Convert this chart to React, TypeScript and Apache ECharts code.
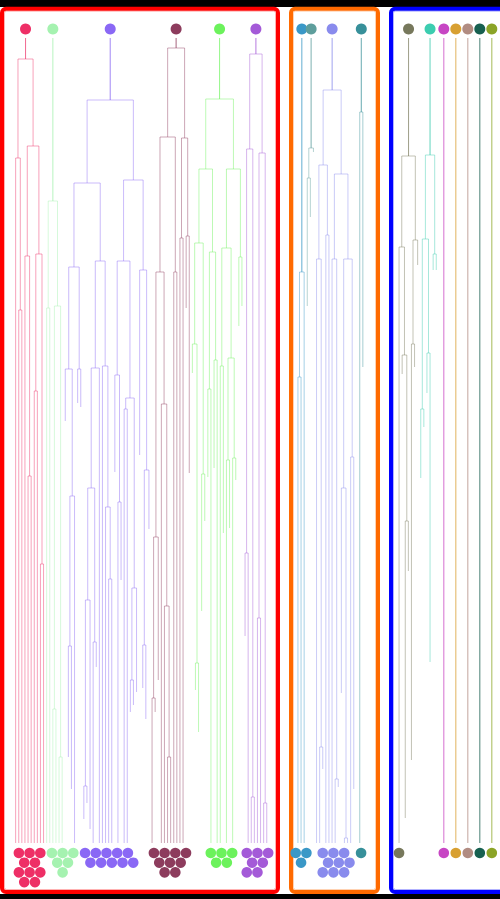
import React, { useEffect, useRef } from "react";
import * as echarts from "echarts";

// A tree: a number is a leaf (depth where its line ends, 814 = bottom),
// an array is a merge: [merge depth, left subtree, right subtree].
type Tree = number | [number, Tree, Tree];

const TREE_PINK: Tree = [30,
  [129, 814, [281, 814, 814]],
  [117, [227, 814, [447, 814, 814]], [225, [362, 814, 814], [535, 814, 814]]]];
const TREE_LIGHTGREEN: Tree = [172, [279, 814, 814], [277, [680, 814, 814], [728, 814, 814]]];
const TREE_PURPLE: Tree = [71,
  [154,
    [238, [340, 392, [467, [617, 728, 760], 814]], [340, 374, 378]],
    [232,
      [339, [459, [571, [757, 790, 774], 800], [613, 814, 638]], 814],
      [337, 814, [478, 814, [550, 814, 814]]]]],
  [151,
    [232, [346, 443, [473, 814, 551]], [369, [380, 814, 814], [559, [651, 683, 676], 663]]],
    [241, 426, [441, [616, 659, 690], 500]]]];
const TREE_MAROON: Tree = [19,
  [108,
    [243, [508, [669, 814, 683], 651], [375, 814, [577, 814, [728, 814, 814]]]],
    [243, 814, 814]],
  [109, [209, 814, 814], [207, 279, 444]]];
const TREE_GREEN: Tree = [70,
  [140,
    [214, [315, 344, [634, 661, 703]], [445, 582, 492]],
    [223, [360, 448, 814], [331, 439, 814]]],
  [140,
    [219, [337, 814, 504], [329, [431, 814, 499], [429, 814, 451]]],
    [228, 297, 277]]];
const TREE_VIOLET: Tree = [25,
  [120, [524, 607, 814], [768, 814, 814]],
  [124, [589, 814, 814], [774, 814, 814]]];
const TREE_BLUE: Tree = [243, [348, 814, 814], 814];
const TREE_TEALGREY: Tree = [119, [149, 277, 188], 123];
const TREE_PERIWINKLE: Tree = [61,
  [136, [230, 814, [718, 814, 740]], [206, 814, 814]],
  [145, [230, 814, [750, 814, 758]], [230, [459, 664, [809, 814, 814]], [428, 814, 760]]]];
const TREE_TEAL: Tree = [83, 814, 338];
const TREE_OLIVEGREY: Tree = [127, [218, 814, [326, 345, [492, 789, 542]]], [211, [315, 731, 338], 236]];
const TREE_TURQUOISE: Tree = [126, [210, [380, 449, 398], [324, 364, 633]], [225, 241, 241]];
const TREE_MAGENTA: Tree = 814;
const TREE_GOLD: Tree = 814;
const TREE_TAUPE: Tree = 814;
const TREE_DARKGREEN: Tree = 814;
const TREE_OLIVE: Tree = 814;

const CLUSTER_TREES: Tree[] = [
  TREE_PINK, TREE_LIGHTGREEN, TREE_PURPLE, TREE_MAROON, TREE_GREEN, TREE_VIOLET,
  TREE_BLUE, TREE_TEALGREY, TREE_PERIWINKLE, TREE_TEAL,
  TREE_OLIVEGREY, TREE_TURQUOISE, TREE_MAGENTA, TREE_GOLD, TREE_TAUPE, TREE_DARKGREEN, TREE_OLIVE,
];

const CLUSTER_COLORS = [
  "#ee2f66", "#a5f2b0", "#8a68f5", "#8d3c5d", "#6cf25c", "#a45ad8",
  "#3a98c7", "#5e9e9c", "#898bed", "#37909a",
  "#77785c", "#3ccdb0", "#c746c4", "#d8a032", "#b18c82", "#176050", "#8ba427",
];

// leaves per row of the dot pile under each cluster
const DOT_ROWS: number[][] = [
  [3, 2, 3, 2], [3, 2, 1], [5, 5], [4, 3, 2], [3, 2], [3, 2, 2],
  [2, 1], [], [3, 3, 3], [1],
  [1], [], [1], [1], [1], [1], [1],
];

const GROUPS: number[][] = [[0, 1, 2, 3, 4, 5], [6, 7, 8, 9], [10, 11, 12, 13, 14, 15, 16]];
const GROUP_COLORS = ["#ff0000", "#ff6a00", "#0000ff"];

// layout constants (pixels)
const SLOT = 3.1;
const MIN_W = 12;
const BOX_PAD = [[12.1, 9.7], [5.4, 10.7], [6.5, 24]];
const BOX_GAP = 13;
const BOX_START = 2;
const BOX_TOP = -20.3;
const BOX_BOTTOM = 863;
const STEM_TOP = 9;
const BOTTOM = 814;
const DOT_R = 5.3;
const DOT_DX = 10.7;
const DOT_DY = 9.7;
const DOT_Y0 = 824;

function countLeaves(t: Tree): number {
  return typeof t === "number" ? 1 : countLeaves(t[1]) + countLeaves(t[2]);
}

function buildLayout() {
  const links: { value: number[]; ci: number }[] = [];
  const tops: any[] = [];
  const dots: any[] = [];
  const boxes: { value: number[]; gi: number }[] = [];
  let cursor = BOX_START;
  let prevDotRight = -Infinity;
  GROUPS.forEach((g, gi) => {
    const left = cursor;
    cursor += BOX_PAD[gi][0];
    g.forEach((ci) => {
      const tree = CLUSTER_TREES[ci];
      const n = countLeaves(tree);
      const w = n <= 2 ? Math.max(MIN_W, n * SLOT) : n * SLOT;
      const start = cursor + (w - n * SLOT) / 2;
      let k = 0;
      const bottomXs: number[] = [];
      const walk = (t: Tree): { x: number; top: number } => {
        if (typeof t === "number") {
          const x = start + (k++ + 0.5) * SLOT;
          if (t >= BOTTOM) bottomXs.push(x);
          return { x, top: t };
        }
        const a = walk(t[1]);
        const b = walk(t[2]);
        links.push({ value: [a.x / SLOT, b.x / SLOT, t[0], a.top, b.top], ci });
        return { x: (a.x + b.x) / 2, top: t[0] };
      };
      const root = walk(tree);
      links.push({ value: [root.x / SLOT, root.x / SLOT, STEM_TOP, root.top, root.top], ci });
      tops.push({ value: [root.x / SLOT, 0], itemStyle: { color: CLUSTER_COLORS[ci], opacity: 1 } });

      const rows = DOT_ROWS[ci];
      if (rows.length) {
        const W = rows[0];
        const center = bottomXs.length
          ? bottomXs.reduce((s, v) => s + v, 0) / bottomXs.length
          : cursor + w / 2;
        let x0 = center - ((W - 1) / 2) * DOT_DX;
        let maxCol = 0;
        const offs = rows.map((c, r) => {
          const off = r % 2 ? 0.5 + Math.max(0, Math.floor((W - 1 - c) / 2)) : Math.floor((W - c) / 2);
          maxCol = Math.max(maxCol, off + c - 1);
          return off;
        });
        if (x0 - DOT_R < prevDotRight + 1) x0 = prevDotRight + 1 + DOT_R;
        rows.forEach((c, r) => {
          for (let j = 0; j < c; j++) {
            dots.push({
              value: [(x0 + (offs[r] + j) * DOT_DX) / SLOT, DOT_Y0 + r * DOT_DY],
              itemStyle: { color: CLUSTER_COLORS[ci], opacity: 1 },
            });
          }
        });
        prevDotRight = x0 + maxCol * DOT_DX + DOT_R;
      }
      cursor += w;
    });
    cursor += BOX_PAD[gi][1];
    boxes.push({ value: [left / SLOT, cursor / SLOT, BOX_TOP, BOX_BOTTOM], gi });
    cursor += BOX_GAP;
  });
  return { links, tops, dots, boxes };
}

export default function App() {
  const ref = useRef<HTMLDivElement>(null);
  useEffect(() => {
    document.body.style.margin = "0";
    document.body.style.overflow = "hidden";
    if (!ref.current) return;
    const chart = echarts.init(ref.current, undefined, { renderer: "svg" });
    const { links, tops, dots, boxes } = buildLayout();
    chart.setOption({
      animation: false,
      backgroundColor: "#ffffff",
      grid: { left: 0, right: 0, top: 0, bottom: 0 },
      xAxis: { type: "value", min: 0, max: 500 / SLOT, show: false },
      yAxis: { type: "value", inverse: true, min: -29, max: 870, show: false },
      graphic: [
        { type: "rect", z: 0, shape: { x: 0, y: 0, width: 500, height: 7 }, style: { fill: "#000" } },
        { type: "rect", z: 0, shape: { x: 0, y: 894, width: 500, height: 5 }, style: { fill: "#000" } },
      ],
      series: [
        {
          type: "custom",
          silent: true,
          clip: false,
          z: 1,
          data: boxes.map((b) => b.value),
          renderItem: (params: any, api: any) => {
            const p1 = api.coord([api.value(0), api.value(2)]);
            const p2 = api.coord([api.value(1), api.value(3)]);
            const color = GROUP_COLORS[boxes[params.dataIndex].gi];
            const w = p2[0] - p1[0];
            const h = p2[1] - p1[1];
            return {
              type: "group",
              children: [
                { type: "rect", shape: { x: p1[0], y: p1[1], width: w, height: h, r: 4 }, style: { fill: "none", stroke: color, lineWidth: 4 } },
                { type: "rect", shape: { x: p1[0] + 2.5, y: p1[1] + 2.5, width: w - 5, height: h - 5, r: 2 }, style: { fill: "none", stroke: color, lineWidth: 1, opacity: 0.3 } },
              ],
            };
          },
        },
        {
          type: "custom",
          silent: true,
          clip: false,
          z: 2,
          data: links.map((l) => l.value),
          renderItem: (params: any, api: any) => {
            const xL = api.value(0), xR = api.value(1), d = api.value(2), tL = api.value(3), tR = api.value(4);
            const color = CLUSTER_COLORS[links[params.dataIndex].ci];
            return {
              type: "polyline",
              shape: { points: [api.coord([xL, tL]), api.coord([xL, d]), api.coord([xR, d]), api.coord([xR, tR])] },
              style: { stroke: color, fill: "none", lineWidth: 1, opacity: 0.45 },
            };
          },
        },
        {
          type: "scatter",
          silent: true,
          clip: false,
          z: 3,
          symbol: "circle",
          symbolSize: 11,
          itemStyle: { opacity: 1 },
          data: tops,
        },
        {
          type: "scatter",
          silent: true,
          clip: false,
          z: 3,
          symbol: "circle",
          symbolSize: DOT_R * 2,
          itemStyle: { opacity: 1 },
          data: dots,
        },
      ],
    });
    return () => chart.dispose();
  }, []);
  return <div ref={ref} style={{ width: 500, height: 899 }} />;
}
